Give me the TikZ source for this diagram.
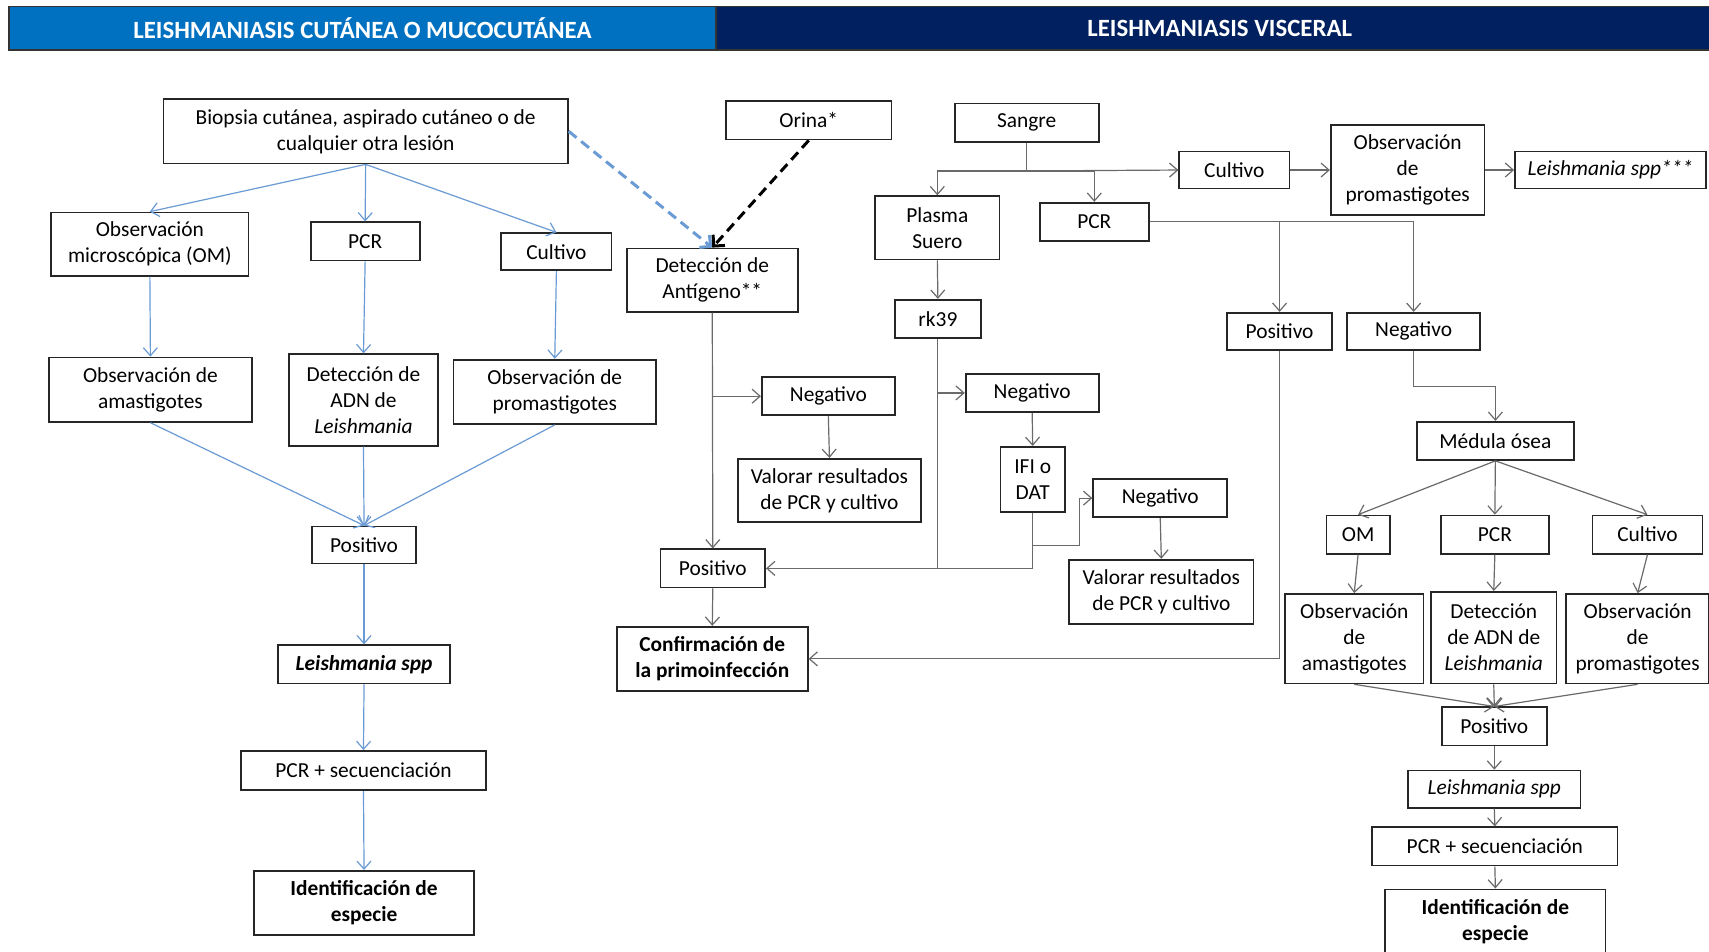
\documentclass[tikz,border=0pt]{standalone}
\usepackage{fontspec}
\setmainfont{Carlito}
\usepackage{xcolor}
\usepackage{tikz}
\usetikzlibrary{arrows.meta}
\definecolor{hdrblue}{HTML}{0070C0}
\definecolor{hdrnavy}{HTML}{002060}
\definecolor{linkblue}{HTML}{6A9BD4}
\definecolor{linkgray}{HTML}{6A6A6A}

\begin{document}
\begin{tikzpicture}[x=0.545pt,y=-0.545pt,
	box/.style={draw=black!85,line width=0.9pt,align=center,inner sep=1pt,font=\fontsize{10.7}{13}\selectfont},
	boxb/.style={box,font=\fontsize{10.7}{13}\selectfont\bfseries},
	sz/.style 2 args={minimum width=#1*0.545pt,minimum height=#2*0.545pt},
	hdr/.style={draw=black!80,line width=0.8pt,text=white,inner sep=0pt,font=\fontsize{12.4}{14}\selectfont\bfseries},
	bl/.style={draw=linkblue,line width=0.6pt,-{Straight Barb[length=4pt,width=7pt]}},
	gr/.style={draw=linkgray,line width=0.6pt,-{Straight Barb[length=4pt,width=7pt]}},
	grl/.style={draw=linkgray,line width=0.6pt},
	dsh/.style={line width=1.5pt,dash pattern=on 5pt off 3pt,-{Straight Barb[length=4pt,width=8pt]}}]
			\useasboundingbox (0,0) rectangle (1568,873);
			\clip (0,0) rectangle (1568,873);
			\fill[white] (0,0) rectangle (1568,873);
			
			\node[hdr,fill=hdrblue,sz={649}{40}] (hdrcut) at (332.5,26) {LEISHMANIASIS CUTÁNEA O MUCOCUTÁNEA};
			\node[hdr,fill=hdrnavy,sz={924}{40}] (hdrvis) at (1119,26) {LEISHMANIASIS VISCERAL};
			
			% cutanea
			\node[box,sz={371}{59}] (biopsia) at (335.5,120.5) {Biopsia cutánea, aspirado cutáneo o de\\cualquier otra lesión};
			\node[box,sz={181}{58}] (omcut) at (137.5,224) {Observación\\microscópica (OM)};
			\node[box,sz={100}{35}] (pcrcut) at (335,221.5) {PCR};
			\node[box,sz={101}{34}] (cultcut) at (510.5,231) {Cultivo};
			\node[box,sz={186}{59}] (amacut) at (138,357.5) {Observación de\\amastigotes};
			\node[box,sz={137}{84}] (adncut) at (333.5,367) {Detección de\\ADN de\\\textit{Leishmania}};
			\node[box,sz={186}{59}] (procut) at (509,359.5) {Observación de\\promastigotes};
			\node[box,sz={96}{34}] (poscut) at (334,500) {Positivo};
			\node[boxb,sz={158}{35}] (sppcut) at (334,609.5) {\textit{Leishmania spp}};
			\node[box,sz={225}{36}] (seqcut) at (333.5,707) {PCR + secuenciación};
			\node[boxb,sz={202}{59}] (idcut) at (334,828.5) {Identificación de\\especie};
			
			\foreach \n in {omcut,pcrcut,cultcut}
				\draw[bl] (biopsia.south) -- (\n.north);
			\foreach \a/\b in {omcut/amacut,pcrcut/adncut,cultcut/procut,poscut/sppcut,sppcut/seqcut,seqcut/idcut}
				\draw[bl] (\a.south) -- (\b.north);
			\foreach \n in {amacut,adncut,procut}
				\draw[bl] (\n.south) -- (poscut.north);
			
			% antigeno
			\node[box,sz={152}{35}] (orina) at (742,110.5) {Orina*};
			\node[box,sz={157}{58}] (antig) at (653.5,257) {Detección de\\Antígeno**};
			\node[box,sz={122}{35}] (negant) at (760,363.5) {Negativo};
			\node[box,sz={168}{58}] (valant) at (761,450) {Valorar resultados\\de PCR y cultivo};
			\node[box,sz={96}{35}] (posant) at (654,521.5) {Positivo};
			\node[boxb,sz={175}{59}] (confirm) at (653.5,604.5) {Confirmación de\\la primoinfección};
			
			\draw[dsh,linkblue] (biopsia.east) -- (antig.north);
			\draw[dsh,black] (orina.south) -- (antig.north);
			\draw[gr] (antig.south) -- (posant.north);
			\draw[gr] (antig.south |- negant.west) -- (negant.west);
			\draw[gr] (negant.south) -- (valant.north);
			\draw[gr] (posant.south) -- (confirm.north);
			
			% visceral
			\node[box,sz={132}{35}] (sangre) at (942,112.5) {Sangre};
			\node[box,sz={114}{58}] (plasma) at (860,209) {Plasma\\Suero};
			\node[box,sz={100}{35}] (pcrsan) at (1004,203.5) {PCR};
			\node[box,sz={101}{34}] (cultsan) at (1132.5,156) {Cultivo};
			\node[box,sz={141}{82}] (prosan) at (1291.5,156) {Observación\\de\\promastigotes};
			\node[box,sz={175}{34}] (sppsan) at (1477.5,156) {\textit{Leishmania spp***}};
			\node[box,sz={79}{35}] (rk) at (860.5,292.5) {rk39};
			\node[box,sz={122}{35}] (negrk) at (947,360.5) {Negativo};
			\node[box,sz={59}{60}] (ifi) at (947.5,440) {IFI o\\DAT};
			\node[box,sz={123}{35}] (negifi) at (1064.5,457) {Negativo};
			\node[box,sz={169}{59}] (valifi) at (1065.5,543) {Valorar resultados\\de PCR y cultivo};
			\node[box,sz={96}{34}] (pospcr) at (1174,304) {Positivo};
			\node[box,sz={122}{34}] (negpcr) at (1297,304) {Negativo};
			
			\draw[grl] (sangre.south) -- ++(0,26) coordinate (sanbar);
			\draw[gr] (sanbar) -| (plasma.north);
			\draw[gr] (sanbar) -| (pcrsan.north);
			\draw[gr] (sanbar) -- (cultsan.west);
			\draw[gr] (cultsan.east) -- (prosan.west);
			\draw[gr] (prosan.east) -- (sppsan.west);
			\draw[gr] (plasma.south) -- (rk.north);
			\draw[gr] (rk.south) |- (posant.east);
			\draw[gr] (rk.south |- negrk.west) -- (negrk.west);
			\draw[gr] (negrk.south) -- (ifi.north);
			\draw[grl] (ifi.south) |- (posant.east);
			\draw[gr] (ifi.south) ++(0,30) -- ++(43,0) |- (negifi.west);
			\draw[gr] (negifi.south) -- (valifi.north);
			\draw[gr] (pcrsan.east) -| (pospcr.north);
			\draw[gr] (pcrsan.east) -| (negpcr.north);
			\draw[gr] (pospcr.south) |- (confirm.east);
			
			% medula osea
			\node[box,sz={144}{35}] (medula) at (1372,404.5) {Médula ósea};
			\node[box,sz={58}{35}] (ommed) at (1246,490.5) {OM};
			\node[box,sz={99}{35}] (pcrmed) at (1371.5,490.5) {PCR};
			\node[box,sz={101}{35}] (cultmed) at (1511.5,490.5) {Cultivo};
			\node[box,sz={127}{82}] (amamed) at (1242.5,586) {Observación\\de\\amastigotes};
			\node[box,sz={115}{84}] (adnmed) at (1370.5,585) {Detección\\de ADN de\\\textit{Leishmania}};
			\node[box,sz={131}{82}] (promed) at (1502.5,586) {Observación\\de\\promastigotes};
			\node[box,sz={96}{35}] (posmed) at (1371,666.5) {Positivo};
			\node[box,sz={158}{34}] (sppmed) at (1371,724) {\textit{Leishmania spp}};
			\node[box,sz={225}{35}] (seqmed) at (1371.5,776.5) {PCR + secuenciación};
			\node[boxb,sz={202}{60}] (idmed) at (1372,846) {Identificación de\\especie};
			
			\draw[gr] (negpcr.south) -- ++(0,33) -| (medula.north);
			\foreach \n in {ommed,pcrmed,cultmed}
				\draw[gr] (medula.south) -- (\n.north);
			\foreach \a/\b in {ommed/amamed,pcrmed/adnmed,cultmed/promed,posmed/sppmed,sppmed/seqmed,seqmed/idmed}
				\draw[gr] (\a.south) -- (\b.north);
			\foreach \n in {amamed,adnmed,promed}
				\draw[gr] (\n.south) -- (posmed.north);
		\end{tikzpicture}
\end{document}
